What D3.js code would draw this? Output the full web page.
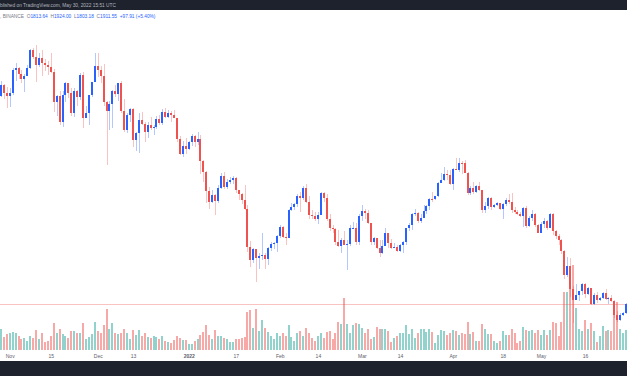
<!DOCTYPE html>
<html lang="en">
<head>
<meta charset="UTF-8">
<title>ETHUSDT 1D</title>
<script src="https://cdn.jsdelivr.net/npm/d3@7"></script>
<style>
  body { margin: 0; background: #fff; }
  svg { display: block; font-family: "Liberation Sans", Arial, sans-serif; }
</style>
</head>
<body>
<svg width="627" height="376"></svg>
<script>
// daily candles, ETHUSDT (Binance), 29 Oct 2021 - 30 May 2022
var dates = [
  "2021-10-29","2021-10-30","2021-10-31",
  "2021-11-01","2021-11-02","2021-11-03","2021-11-04","2021-11-05","2021-11-06","2021-11-07","2021-11-08","2021-11-09","2021-11-10",
  "2021-11-11","2021-11-12","2021-11-13","2021-11-14","2021-11-15","2021-11-16","2021-11-17","2021-11-18","2021-11-19","2021-11-20",
  "2021-11-21","2021-11-22","2021-11-23","2021-11-24","2021-11-25","2021-11-26","2021-11-27","2021-11-28","2021-11-29","2021-11-30",
  "2021-12-01","2021-12-02","2021-12-03","2021-12-04","2021-12-05","2021-12-06","2021-12-07","2021-12-08","2021-12-09","2021-12-10",
  "2021-12-11","2021-12-12","2021-12-13","2021-12-14","2021-12-15","2021-12-16","2021-12-17","2021-12-18","2021-12-19","2021-12-20",
  "2021-12-21","2021-12-22","2021-12-23","2021-12-24","2021-12-25","2021-12-26","2021-12-27","2021-12-28","2021-12-29","2021-12-30","2021-12-31",
  "2022-01-01","2022-01-02","2022-01-03","2022-01-04","2022-01-05","2022-01-06","2022-01-07","2022-01-08","2022-01-09","2022-01-10",
  "2022-01-11","2022-01-12","2022-01-13","2022-01-14","2022-01-15","2022-01-16","2022-01-17","2022-01-18","2022-01-19","2022-01-20",
  "2022-01-21","2022-01-22","2022-01-23","2022-01-24","2022-01-25","2022-01-26","2022-01-27","2022-01-28","2022-01-29","2022-01-30","2022-01-31",
  "2022-02-01","2022-02-02","2022-02-03","2022-02-04","2022-02-05","2022-02-06","2022-02-07","2022-02-08","2022-02-09","2022-02-10",
  "2022-02-11","2022-02-12","2022-02-13","2022-02-14","2022-02-15","2022-02-16","2022-02-17","2022-02-18","2022-02-19","2022-02-20",
  "2022-02-21","2022-02-22","2022-02-23","2022-02-24","2022-02-25","2022-02-26","2022-02-27","2022-02-28",
  "2022-03-01","2022-03-02","2022-03-03","2022-03-04","2022-03-05","2022-03-06","2022-03-07","2022-03-08","2022-03-09","2022-03-10",
  "2022-03-11","2022-03-12","2022-03-13","2022-03-14","2022-03-15","2022-03-16","2022-03-17","2022-03-18","2022-03-19","2022-03-20",
  "2022-03-21","2022-03-22","2022-03-23","2022-03-24","2022-03-25","2022-03-26","2022-03-27","2022-03-28","2022-03-29","2022-03-30","2022-03-31",
  "2022-04-01","2022-04-02","2022-04-03","2022-04-04","2022-04-05","2022-04-06","2022-04-07","2022-04-08","2022-04-09","2022-04-10",
  "2022-04-11","2022-04-12","2022-04-13","2022-04-14","2022-04-15","2022-04-16","2022-04-17","2022-04-18","2022-04-19","2022-04-20",
  "2022-04-21","2022-04-22","2022-04-23","2022-04-24","2022-04-25","2022-04-26","2022-04-27","2022-04-28","2022-04-29","2022-04-30",
  "2022-05-01","2022-05-02","2022-05-03","2022-05-04","2022-05-05","2022-05-06","2022-05-07","2022-05-08","2022-05-09","2022-05-10",
  "2022-05-11","2022-05-12","2022-05-13","2022-05-14","2022-05-15","2022-05-16","2022-05-17","2022-05-18","2022-05-19","2022-05-20",
  "2022-05-21","2022-05-22","2022-05-23","2022-05-24","2022-05-25","2022-05-26","2022-05-27","2022-05-28","2022-05-29","2022-05-30"
];

var open = [
  4287,4414,4325,
  4288,4324,4586,4604,4532,4475,4518,4611,4807,4729,4635,4726,4667,4645,4623,4557,4218,4287,3994,4300,4434,4318,4087,4341,4270,4523,4041,4096,4294,4444,
  4632,4588,4511,4220,4117,4198,4345,4310,4436,4110,3895,4075,4136,3783,3861,4018,3962,3875,3960,3921,3937,4020,3981,4109,4047,4093,4064,4037,3797,3630,3713,
  3676,3765,3829,3761,3794,3550,3418,3197,3081,3157,3083,3238,3372,3248,3309,3330,3350,3212,3164,3097,3000,2567,2410,2537,2442,2458,2467,2425,2548,2600,2605,
  2688,2791,2682,2669,2990,3015,3059,3143,3124,3241,3078,2928,2917,2883,2929,3183,3124,2888,2784,2764,2624,2572,2639,2591,2598,2776,2779,2619,
  2920,2972,2949,2834,2618,2665,2557,2496,2577,2727,2609,2557,2561,2518,2589,2620,2774,2816,2944,2946,2861,2897,2972,3031,3109,3108,3143,3295,3331,3400,3385,
  3281,3450,3444,3522,3521,3412,3175,3233,3188,3262,3210,2981,3029,3118,3019,3040,3060,2993,3056,3103,3077,2985,2965,2935,2922,3007,2808,2889,2936,2816,
  2728,2826,2856,2782,2940,2749,2694,2637,2517,2244,2341,2078,1961,2014,2058,2146,2023,2090,1914,2018,1961,1975,2043,1972,1978,1942,1792,1724,1792,1813.64
];
var high = [
  4460,4418,4392,
  4380,4607,4665,4615,4580,4540,4640,4825,4839,4868,4780,4810,4705,4688,4773,4600,4300,4345,4345,4450,4440,4375,4378,4355,4550,4555,4178,4300,4450,4778,
  4779,4625,4650,4235,4235,4350,4410,4440,4460,4255,4090,4145,4150,3880,4090,4100,3990,3990,4050,3960,4060,4065,4140,4150,4130,4120,4125,4040,3825,3768,3812,
  3778,3858,3836,3878,3845,3555,3425,3245,3215,3165,3270,3410,3414,3339,3365,3370,3360,3215,3175,3270,3040,2630,2550,2545,2490,2720,2500,2560,2620,2625,2700,
  2815,2800,2720,3000,3065,3065,3170,3195,3255,3280,3150,2985,2960,2960,3190,3190,3165,2935,2815,2775,2760,2664,2750,2640,2815,2849,2835,2945,
  3040,3000,2990,2836,2680,2667,2640,2643,2780,2728,2650,2605,2590,2600,2635,2785,2835,2955,2995,2957,2945,3045,3040,3125,3187,3150,3300,3410,3480,3445,3445,
  3470,3580,3580,3545,3555,3415,3260,3310,3270,3305,3215,3080,3130,3135,3055,3080,3070,3060,3125,3170,3180,3025,2985,2965,3025,3035,2915,2980,2950,2830,
  2850,2890,2870,2955,2950,2755,2710,2650,2525,2450,2440,2117,2145,2065,2150,2155,2110,2095,2040,2045,1990,2050,2085,1990,2015,1955,1830,1805,1825,1924.00
];
var low = [
  4280,4247,4150,
  4157,4303,4460,4482,4440,4330,4510,4600,4710,4450,4620,4515,4570,4525,4550,4108,4059,3960,3930,4222,4260,4055,4050,4170,4245,3920,4030,3950,4280,4444,
  4500,4430,4170,3500,3900,3920,4270,4235,4090,3880,3860,3990,3710,3660,3640,3950,3760,3810,3900,3840,3910,3955,3950,4030,4040,3990,4030,3760,3610,3585,3625,
  3672,3720,3700,3723,3400,3310,3060,3000,3070,2928,3060,3225,3230,3220,3280,3280,3180,3100,3050,2990,2505,2330,2375,2160,2310,2420,2310,2360,2520,2540,2505,
  2665,2660,2585,2660,2975,2980,3020,2960,3105,3070,2888,2880,2860,2825,2925,3075,2860,2750,2725,2580,2565,2500,2581,2300,2576,2765,2580,2590,
  2865,2880,2820,2580,2590,2545,2450,2485,2575,2550,2540,2550,2505,2505,2500,2585,2750,2760,2918,2840,2835,2895,2935,2980,3080,3095,3135,3290,3320,3330,3270,
  3210,3440,3420,3400,3405,3160,3155,3170,3180,3200,2950,2955,3000,2990,3005,3030,2985,2880,3030,3055,2950,2945,2925,2910,2790,2780,2795,2860,2790,2720,
  2725,2780,2760,2775,2700,2650,2580,2480,2200,2215,1990,1700,1955,1950,2020,1985,2010,1905,1905,1925,1945,1965,1960,1915,1935,1750,1710,1715,1772,1803.18
];
var close = [
  4414,4325,4288,
  4324,4586,4604,4532,4475,4518,4611,4807,4729,4635,4726,4667,4645,4623,4557,4218,4287,3994,4300,4434,4318,4087,4341,4270,4523,4041,4096,4294,4444,4632,
  4588,4511,4220,4117,4198,4345,4310,4436,4110,3895,4075,4136,3783,3861,4018,3962,3875,3960,3921,3937,4020,3981,4109,4047,4093,4064,4037,3797,3630,3713,3676,
  3765,3829,3761,3794,3550,3418,3197,3081,3157,3083,3238,3372,3248,3309,3330,3350,3212,3164,3097,3000,2567,2410,2537,2442,2458,2467,2425,2548,2600,2605,2688,
  2791,2682,2669,2990,3015,3059,3143,3124,3241,3078,2928,2917,2883,2929,3183,3124,2888,2784,2764,2624,2572,2639,2591,2598,2776,2779,2619,2920,
  2972,2949,2834,2618,2665,2557,2496,2577,2727,2609,2557,2561,2518,2589,2620,2774,2816,2944,2946,2861,2897,2972,3031,3109,3108,3143,3295,3331,3400,3385,3281,
  3450,3444,3522,3521,3412,3175,3233,3188,3262,3210,2981,3029,3118,3019,3040,3060,2993,3056,3103,3077,2985,2965,2935,2922,3007,2808,2889,2936,2816,2728,
  2826,2856,2782,2940,2749,2694,2637,2517,2244,2341,2078,1961,2014,2058,2146,2023,2090,1914,2018,1961,1975,2043,1972,1978,1942,1792,1724,1792,1813.64,1911.55
];
// volume, thousand ETH
var volume = [
  525,325,400,425,450,425,350,275,300,225,
  350,300,500,275,425,200,225,350,675,425,
  525,400,350,300,475,475,425,425,675,275,
  325,400,700,475,425,625,1025,525,675,425,
  400,425,525,425,275,500,375,500,350,425,
  325,300,350,325,275,350,225,200,175,250,
  350,300,250,250,150,150,225,275,375,450,
  625,375,275,500,350,350,300,275,200,200,
  275,275,300,325,950,1000,550,1025,475,750,
  550,450,350,275,425,350,425,350,625,325,
  225,425,475,350,550,425,300,225,350,
  425,300,450,475,275,425,700,650,1300,650,
  425,625,675,650,550,425,525,275,325,575,
  525,525,525,475,200,300,350,425,425,625,
  400,525,300,425,525,525,450,525,450,175,
  375,500,475,375,425,500,475,375,425,400,
  700,400,450,225,225,650,525,400,400,225,
  175,225,475,375,375,525,425,175,225,575,
  500,475,500,425,500,375,500,375,500,700,
  675,350,700,1450,1450,2025,2125,1050,525,475,
  750,525,675,475,200,350,600,475,500,475,
  1200,1200,525,425,500
];

var tickDates = ["2021-11-01","2021-11-15","2021-12-01","2021-12-13","2022-01-01","2022-01-17","2022-02-01",
                 "2022-02-14","2022-03-01","2022-03-14","2022-04-01","2022-04-18","2022-05-01","2022-05-16"];
var tickLabels = ["Nov","15","Dec","13","2022","17","Feb","14","Mar","14","Apr","18","May","16"];

var upColor = '#2962ff', downColor = '#ef5350';
var upWick = 'rgba(41,98,255,0.35)', downWick = 'rgba(239,83,80,0.35)';
var upVol = 'rgba(38,166,154,0.5)', downVol = 'rgba(239,83,80,0.5)';

var parseDate = d3.utcParse('%Y-%m-%d');
var days = dates.map(parseDate);

var svg = d3.select('svg');

// scales
var x = d3.scaleUtc().domain(d3.extent(days)).range([0.9, 626.05]);
var yPrice = d3.scaleLinear().domain([1500, 5000]).range([340.1, 33.5]);
var yVol = d3.scaleLinear().domain([0, 2500]).range([350, 250]);

var bars = d3.range(dates.length).map(function (i) {
    return {date: days[i], o: open[i], h: high[i], l: low[i], c: close[i], v: volume[i]};
});

function left(d) { return Math.round(x(d.date) - 1); }

// volume first, candles sit on top of it
svg.append('g').attr('shape-rendering', 'crispEdges')
    .selectAll('rect')
    .data(bars)
    .enter()
    .append('rect')
    .attr('x', left)
    .attr('y', function (d) { return yVol(d.v); })
    .attr('width', 2)
    .attr('height', function (d) { return yVol(0) - yVol(d.v); })
    .attr('fill', function (d) { return d.c >= d.o ? upVol : downVol; });

// last price line
var lastY = Math.round(yPrice(close[close.length - 1])) + 0.5;
svg.append('line')
    .attr('x1', 0).attr('x2', 627)
    .attr('y1', lastY).attr('y2', lastY)
    .attr('stroke', 'rgba(239,83,80,0.35)')
    .attr('stroke-width', 1);

var candles = svg.append('g').attr('shape-rendering', 'crispEdges');

candles.selectAll('.wick')
    .data(bars)
    .enter()
    .append('rect')
    .attr('class', 'wick')
    .attr('x', function (d) { return left(d) + 1; })
    .attr('y', function (d) { return yPrice(d.h); })
    .attr('width', 1)
    .attr('height', function (d) { return Math.max(1, yPrice(d.l) - yPrice(d.h)); })
    .attr('fill', function (d) { return d.c >= d.o ? upWick : downWick; });

candles.selectAll('.body')
    .data(bars)
    .enter()
    .append('rect')
    .attr('class', 'body')
    .attr('x', left)
    .attr('y', function (d) { return yPrice(Math.max(d.o, d.c)); })
    .attr('width', 2)
    .attr('height', function (d) { return Math.max(1, Math.abs(yPrice(d.o) - yPrice(d.c))); })
    .attr('fill', function (d) { return d.c >= d.o ? upColor : downColor; });

// time axis
var axisX = d3.axisBottom(x)
    .tickValues(tickDates.map(parseDate))
    .tickFormat(function (d, i) { return tickLabels[i]; })
    .tickSize(0)
    .tickPadding(2);

var gx = svg.append('g')
    .attr('transform', 'translate(0,352)')
    .call(axisX);
gx.select('.domain').remove();
gx.selectAll('text')
    .attr('fill', '#5d606b')
    .attr('font-size', 5)
    .attr('font-family', '"Liberation Sans", Arial, sans-serif')
    .attr('font-weight', function (d, i) { return tickLabels[i] === '2022' ? 'bold' : 'normal'; });

// dark bands top and bottom
svg.append('rect').attr('x', 0).attr('y', 0).attr('width', 627).attr('height', 10).attr('fill', '#1e222d');
svg.append('rect').attr('x', 0).attr('y', 361).attr('width', 627).attr('height', 15).attr('fill', '#1e222d');

// the screenshot is cropped on the left, so only the tail of these lines shows
svg.append('text')
    .attr('x', 0).attr('y', 7)
    .attr('font-size', 4.8)
    .attr('fill', '#b2b5be')
    .text('blished on TradingView.com, May 30, 2022 15:51 UTC');

// OHLC legend
var legend = svg.append('text')
    .attr('x', 0).attr('y', 18)
    .attr('font-size', 4.8)
    .attr('fill', '#787b86')
    .attr('xml:space', 'preserve');
var last = close.length - 1;
var change = close[last] - open[last];
var parts = [
    [', BINANCE  ', '#787b86'],
    ['O', '#787b86'], [open[last].toFixed(2) + '  ', upColor],
    ['H', '#787b86'], [high[last].toFixed(2) + '  ', upColor],
    ['L', '#787b86'], [low[last].toFixed(2) + '  ', upColor],
    ['C', '#787b86'], [close[last].toFixed(2) + '  ', upColor],
    ['+' + change.toFixed(2) + ' (+' + (change / open[last] * 100).toFixed(2) + '%)', upColor]
];
legend.selectAll('tspan')
    .data(parts)
    .enter()
    .append('tspan')
    .attr('fill', function (d) { return d[1]; })
    .text(function (d) { return d[0]; });
</script>
</body>
</html>
